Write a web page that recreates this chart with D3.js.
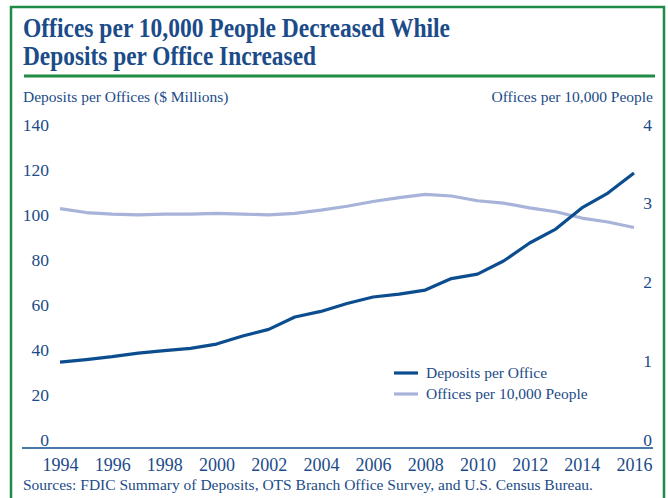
<!DOCTYPE html>
<html>
<head>
<meta charset="utf-8">
<script src="https://cdn.jsdelivr.net/npm/d3@7"></script>
<style>
  html, body { margin: 0; padding: 0; background: #fff; }
  svg { display: block; font-family: "Liberation Serif", "DejaVu Serif", serif; }
</style>
</head>
<body>
<svg id="chart" width="668" height="498"></svg>
<script>
const years = d3.range(1994, 2017);
const depositsPerOffice = [38.2, 39.3, 40.6, 42.2, 43.3, 44.3, 46.2, 49.8, 52.7, 58.2, 60.7, 64.2, 67.1, 68.4, 70.2, 75.3, 77.3, 83.1, 91.1, 97.3, 106.7, 113.3, 122.2];
const officesPer10k = [3.04, 2.99, 2.97, 2.96, 2.97, 2.97, 2.98, 2.97, 2.96, 2.98, 3.02, 3.07, 3.13, 3.18, 3.22, 3.20, 3.14, 3.11, 3.05, 3.00, 2.92, 2.87, 2.80];
const leftTicks = [0, 20, 40, 60, 80, 100, 120, 140];
const rightTicks = [0, 1, 2, 3, 4];
const xTicks = [1994, 1996, 1998, 2000, 2002, 2004, 2006, 2008, 2010, 2012, 2014, 2016];
const seriesNames = ["Deposits per Office", "Offices per 10,000 People"];

const TEXT = "#1b4b88";
const DARK = "#0b4d8f";
const LIGHT = "#a7b3d9";
const GREEN = "#1f8b45";

const svg = d3.select("#chart");

// frame
svg.append("rect").attr("x", 11).attr("y", 7).attr("width", 653).attr("height", 520)
  .attr("fill", "none").attr("stroke", GREEN).attr("stroke-width", 2.5);
svg.append("line").attr("x1", 24).attr("x2", 655).attr("y1", 76).attr("y2", 76)
  .attr("stroke", GREEN).attr("stroke-width", 3);

// title
svg.append("text").attr("x", 23).attr("y", 37).attr("fill", TEXT)
  .attr("font-weight", "bold").attr("font-size", 27)
  .attr("textLength", 427).attr("lengthAdjust", "spacingAndGlyphs")
  .text("Offices per 10,000 People Decreased While");
svg.append("text").attr("x", 23).attr("y", 65).attr("fill", TEXT)
  .attr("font-weight", "bold").attr("font-size", 27)
  .attr("textLength", 293).attr("lengthAdjust", "spacingAndGlyphs")
  .text("Deposits per Office Increased");

// axis titles
svg.append("text").attr("x", 23).attr("y", 102).attr("fill", TEXT).attr("font-size", 15.5)
  .text("Deposits per Offices ($ Millions)");
svg.append("text").attr("x", 653).attr("y", 102).attr("fill", TEXT).attr("font-size", 15.5)
  .attr("text-anchor", "end").text("Offices per 10,000 People");

// scales
const x = d3.scaleLinear().domain([1994, 2016]).range([60, 634]);
const yL = d3.scaleLinear().domain([0, 140]).range([448, 133]);
const yR = d3.scaleLinear().domain([0, 4]).range([448, 133]);

// left axis
const gL = svg.append("g").attr("transform", "translate(49,0)")
  .call(d3.axisLeft(yL).tickValues(leftTicks).tickFormat(d3.format("d")).tickSize(0).tickPadding(0));
gL.select(".domain").remove();
gL.selectAll("text").attr("dy", -3).attr("fill", TEXT)
  .attr("font-size", 17.5).attr("font-family", "Liberation Serif, serif");

// right axis
const gR = svg.append("g").attr("transform", "translate(652,0)")
  .call(d3.axisLeft(yR).tickValues(rightTicks).tickFormat(d3.format("d")).tickSize(0).tickPadding(0));
gR.select(".domain").remove();
gR.selectAll("text").attr("dy", -3).attr("fill", TEXT)
  .attr("font-size", 17.5).attr("font-family", "Liberation Serif, serif");

// x axis
const gX = svg.append("g").attr("transform", "translate(0,448)")
  .call(d3.axisBottom(x).tickValues(xTicks).tickFormat(d3.format("d")).tickSize(0).tickPadding(0));
gX.select(".domain").remove();
gX.selectAll("text").attr("y", 23).attr("dy", 0).attr("fill", TEXT)
  .attr("font-size", 18).attr("font-family", "Liberation Serif, serif");
svg.append("line").attr("x1", 22).attr("x2", 653).attr("y1", 448).attr("y2", 448)
  .attr("stroke", DARK).attr("stroke-width", 1.6);

// lines
const lineL = d3.line().x((d, i) => x(years[i])).y(d => yL(d));
const lineR = d3.line().x((d, i) => x(years[i])).y(d => yR(d));
svg.append("path").datum(officesPer10k).attr("d", lineR)
  .attr("fill", "none").attr("stroke", LIGHT).attr("stroke-width", 3.2).attr("stroke-linejoin", "round");
svg.append("path").datum(depositsPerOffice).attr("d", lineL)
  .attr("fill", "none").attr("stroke", DARK).attr("stroke-width", 3.2).attr("stroke-linejoin", "round");

// legend
const legendColors = [DARK, LIGHT];
const lg = svg.append("g");
seriesNames.forEach((name, i) => {
  const yy = 373 + i * 21;
  lg.append("line").attr("x1", 394).attr("x2", 418).attr("y1", yy).attr("y2", yy)
    .attr("stroke", legendColors[i]).attr("stroke-width", 3.2);
  lg.append("text").attr("x", 426).attr("y", yy + 5).attr("fill", TEXT)
    .attr("font-size", 15.5).text(name);
});

// source
svg.append("text").attr("x", 23).attr("y", 490).attr("fill", TEXT).attr("font-size", 15.5)
  .text("Sources: FDIC Summary of Deposits, OTS Branch Office Survey, and U.S. Census Bureau.");
</script>
</body>
</html>
